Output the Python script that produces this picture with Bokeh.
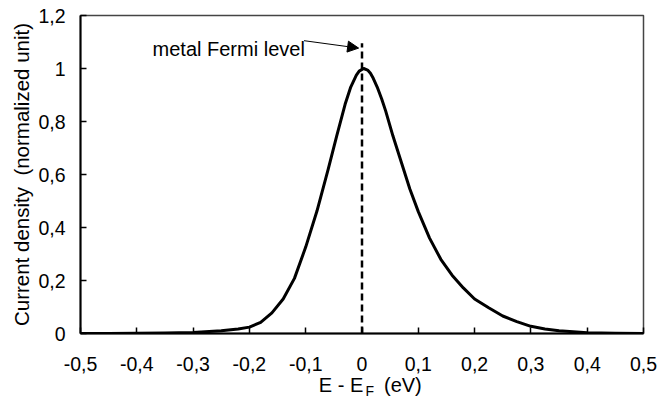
from bokeh.plotting import figure
from bokeh.models import FixedTicker, Label, Arrow, NormalHead, Range1d, LinearAxis
from bokeh.embed import file_html
from bokeh.resources import INLINE

# Data
energy = [-0.5, -0.45, -0.4, -0.35, -0.3, -0.25, -0.22, -0.2, -0.18, -0.16, -0.14,
          -0.12, -0.1, -0.08, -0.06, -0.045, -0.03, -0.02, -0.01, -0.005, 0.003,
          0.01, 0.015, 0.02, 0.027, 0.035, 0.042, 0.055, 0.07, 0.085, 0.1, 0.12,
          0.14, 0.16, 0.18, 0.2, 0.225, 0.25, 0.275, 0.3, 0.325, 0.35, 0.4, 0.45, 0.5]
current = [0.0, 0.0002, 0.0006, 0.0015, 0.004, 0.01, 0.017, 0.024, 0.042, 0.078, 0.13,
           0.208, 0.326, 0.462, 0.62, 0.745, 0.865, 0.93, 0.975, 0.99, 1.0,
           0.994, 0.982, 0.963, 0.93, 0.885, 0.84, 0.745, 0.645, 0.545, 0.46, 0.36,
           0.28, 0.22, 0.172, 0.13, 0.097, 0.066, 0.045, 0.027, 0.017, 0.01, 0.003, 0.001, 0.0]

fermi_x = [0.0, 0.0]
fermi_y = [0.0, 1.095]

x_ticks = [-0.5, -0.4, -0.3, -0.2, -0.1, 0.0, 0.1, 0.2, 0.3, 0.4, 0.5]
x_tick_labels = ["-0,5", "-0,4", "-0,3", "-0,2", "-0,1", "0", "0,1", "0,2", "0,3", "0,4", "0,5"]
y_ticks = [0.0, 0.2, 0.4, 0.6, 0.8, 1.0, 1.2]
y_tick_labels = ["0", "0,2", "0,4", "0,6", "0,8", "1", "1,2"]

FONT = "Liberation Sans"
NB = "\u00a0"

p = figure(width=670, height=401, output_backend="svg", toolbar_location=None,
           x_range=Range1d(-0.5, 0.5), y_range=Range1d(0, 1.2),
           min_border_left=80, min_border_right=27, min_border_top=15, min_border_bottom=68)
p.background_fill_color = "white"
p.border_fill_color = "white"
p.grid.visible = False
p.outline_line_color = "#444444"
p.outline_line_width = 1.5

for ax in (p.xaxis[0], p.yaxis[0]):
    ax.axis_line_color = "black"
    ax.axis_line_width = 2
    ax.major_tick_in = 6
    ax.major_tick_out = 0
    ax.major_tick_line_width = 1.5
    ax.major_tick_line_color = "black"
    ax.minor_tick_line_color = None
    ax.major_label_text_font = FONT
    ax.major_label_text_font_size = "19.5px"
    ax.major_label_text_color = "black"

p.xaxis.ticker = FixedTicker(ticks=x_ticks)
p.xaxis.major_label_overrides = dict(zip(x_ticks, x_tick_labels))
p.xaxis.major_label_standoff = 23
p.xaxis.axis_label = NB * 3 + "E - E" + NB * 3 + "\u2009(eV)"
p.xaxis.axis_label_text_font = FONT
p.xaxis.axis_label_text_font_size = "20px"
p.xaxis.axis_label_text_font_style = "normal"
p.xaxis.axis_label_text_color = "black"
p.xaxis.axis_label_standoff = 0

# second, bare axis below that only carries the subscript "F"
sub_axis = LinearAxis(ticker=FixedTicker(ticks=[]), axis_line_color=None,
                      major_tick_line_color=None, minor_tick_line_color=None,
                      major_tick_in=0, major_tick_out=0, minor_tick_in=0, minor_tick_out=0,
                      major_label_standoff=0,
                      axis_label=NB * 4 + "F", axis_label_text_font=FONT,
                      axis_label_text_font_size="14px", axis_label_text_font_style="normal",
                      axis_label_text_color="black", axis_label_standoff=-16)
p.add_layout(sub_axis, "below")

p.yaxis.ticker = FixedTicker(ticks=y_ticks)
p.yaxis.major_label_overrides = dict(zip(y_ticks, y_tick_labels))
p.yaxis.major_label_standoff = 15
p.yaxis.axis_label = "Current density" + NB + " (normalized unit)"
p.yaxis.axis_label_text_font = FONT
p.yaxis.axis_label_text_font_size = "20.5px"
p.yaxis.axis_label_text_font_style = "normal"
p.yaxis.axis_label_text_color = "black"
p.yaxis.axis_label_standoff = 2

p.line(energy, current, line_color="black", line_width=3, line_join="round")
p.line(fermi_x, fermi_y, line_color="black", line_width=2.5, line_dash="7 4")

p.add_layout(Label(x=-0.372, y=1.072, text="metal Fermi level", text_font=FONT,
                   text_font_size="20px", text_color="black", text_baseline="alphabetic"))
p.add_layout(Arrow(x_start=-0.103, y_start=1.105, x_end=-0.006, y_end=1.077,
                   line_color="black", line_width=1,
                   end=NormalHead(size=11, fill_color="black", line_color="black")))

open("out.html", "w").write(file_html(p, INLINE))
